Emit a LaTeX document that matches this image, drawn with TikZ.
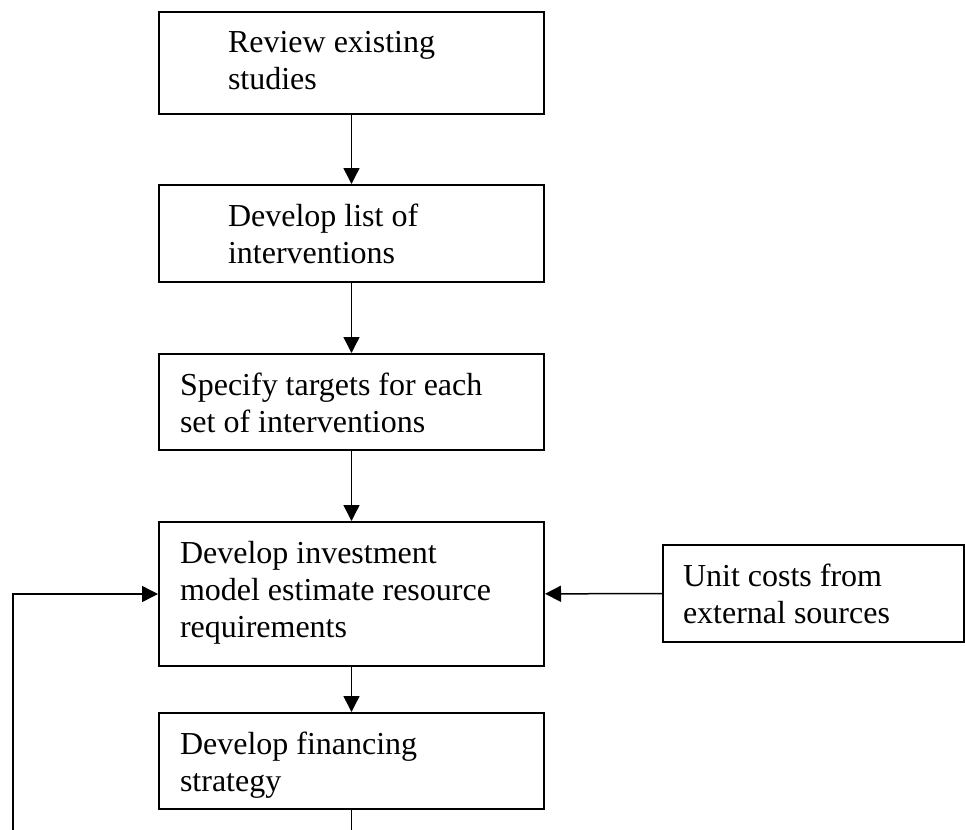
\documentclass[tikz,border=0pt]{standalone}
\usepackage{fontspec}
\setmainfont{Liberation Serif}
\usetikzlibrary{arrows.meta,calc}

\newcommand{\stepfont}{\fontsize{16}{18.5}\selectfont}
% box text: width, height, indent, lines
\newcommand{\boxtext}[4]{\parbox[t][#2][t]{#1}{\leftskip=#3\relax\rule{0pt}{20.5pt}#4}}

\begin{document}
\begin{tikzpicture}[stepbox/.style={draw,line width=1pt,inner sep=0pt,anchor=north west,font=\stepfont},
  flow/.style={line width=0.75pt,-{Triangle[length=8pt,width=8pt]}}]
  \useasboundingbox (0,0) rectangle (482.5pt,-415pt);
  \node[stepbox] (review) at (79pt,-5.5pt) {\boxtext{192.5pt}{51pt}{34.5pt}{Review existing\\studies}};
  \node[stepbox] (interventions) at (79pt,-92pt) {\boxtext{192.5pt}{48.5pt}{34.5pt}{Develop list of\\interventions}};
  \node[stepbox] (targets) at (79pt,-176.5pt) {\boxtext{192.5pt}{48pt}{10.5pt}{Specify targets for each\\set of interventions}};
  \node[stepbox] (invest) at (79pt,-260.5pt) {\boxtext{192.5pt}{72pt}{10.5pt}{Develop investment\\model estimate resource\\requirements}};
  \node[stepbox] (finance) at (79pt,-356pt) {\boxtext{192.5pt}{48pt}{10.5pt}{Develop financing\\strategy}};
  \node[stepbox] (unitcost) at (331pt,-272pt) {\boxtext{150.5pt}{48.5pt}{10pt}{Unit costs from\\external sources}};
  \draw[flow] (review) -- (interventions);
  \draw[flow] (interventions) -- (targets);
  \draw[flow] (targets) -- (invest);
  \draw[flow] (invest) -- (finance);
  \draw[flow] (unitcost) -- (invest);
  % feedback loop runs below the page edge
  \coordinate (loop) at (6.5pt,-425pt);
  \draw[flow] (finance.south) |- (loop) |- (invest.west);
\end{tikzpicture}
\end{document}
